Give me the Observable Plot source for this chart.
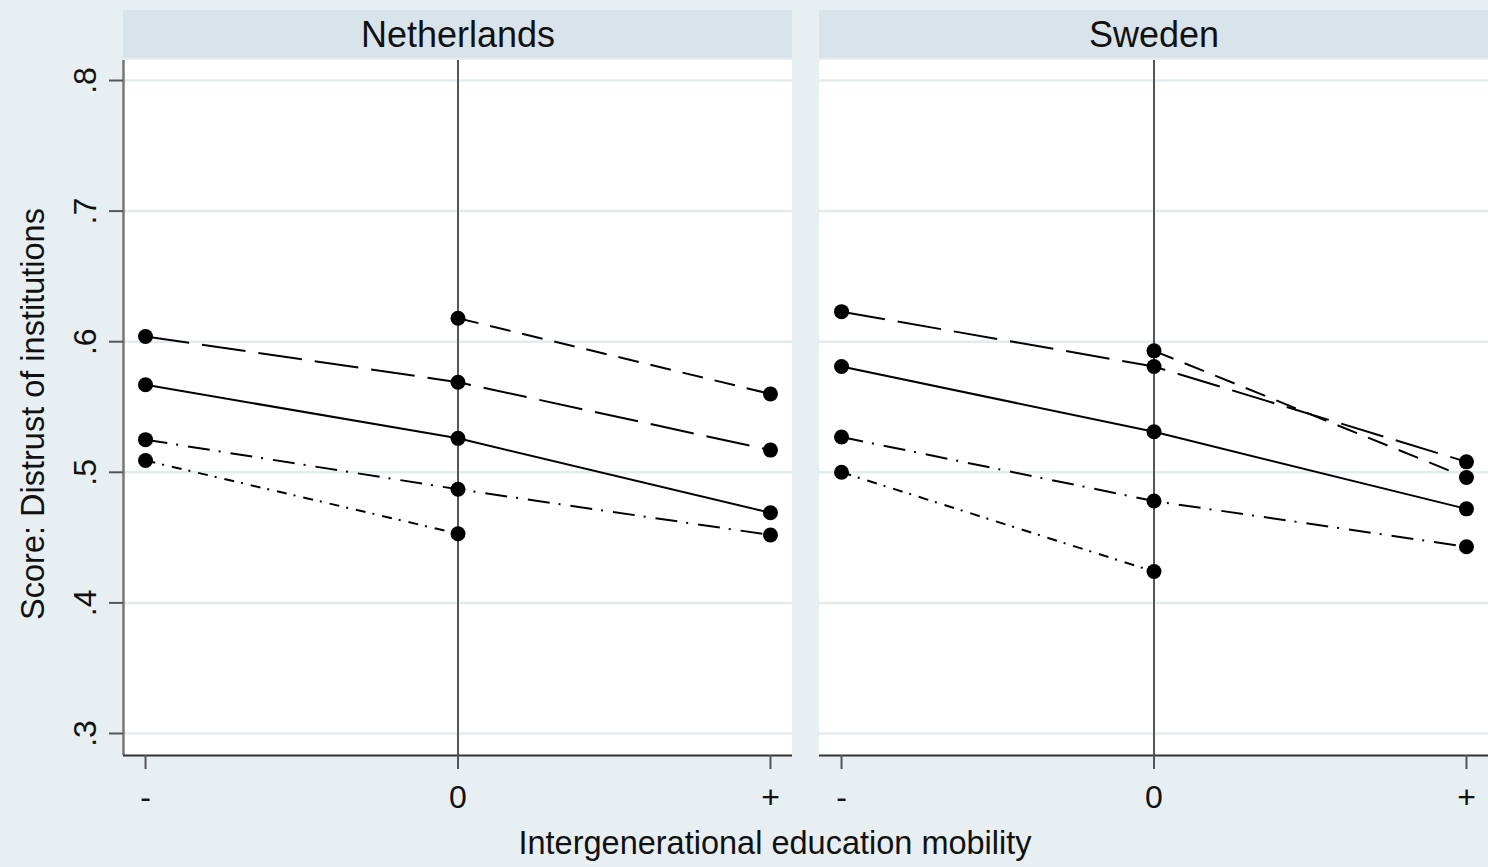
<!DOCTYPE html>
<html>
<head>
<meta charset="utf-8">
<script src="https://cdn.jsdelivr.net/npm/d3@7"></script>
<script src="https://cdn.jsdelivr.net/npm/@observablehq/plot@0.6"></script>
<style>
  html, body { margin: 0; padding: 0; background: #e8eff2; overflow: hidden; }
  #chart svg { display: block; }
</style>
</head>
<body>
<div id="chart"></div>
<script>
// ---- data ----
const countries = ["Netherlands", "Sweden"];
const mobility = [-1, 0, 1];
const mobilityLabels = ["-", "0", "+"];
const yTicks = [0.3, 0.4, 0.5, 0.6, 0.7, 0.8];
const seriesNames = ["longdash", "shortdash", "solid", "dashdot", "dashdotdot"];

// values at mobility -, 0, + (null = not shown)
const nlLongDash   = [0.604, 0.569, 0.517];
const nlShortDash  = [null, 0.618, 0.560];
const nlSolid      = [0.567, 0.526, 0.469];
const nlDashDot    = [0.525, 0.487, 0.452];
const nlDashDotDot = [0.509, 0.453, null];

const seLongDash   = [0.623, 0.581, 0.508];
const seShortDash  = [null, 0.593, 0.496];
const seSolid      = [0.581, 0.531, 0.472];
const seDashDot    = [0.527, 0.478, 0.443];
const seDashDotDot = [0.500, 0.424, null];

const xTitle = "Intergenerational education mobility";
const yTitle = "Score: Distrust of institutions";

// ---- build table ----
const valuesBy = {
  Netherlands: [nlLongDash, nlShortDash, nlSolid, nlDashDot, nlDashDotDot],
  Sweden: [seLongDash, seShortDash, seSolid, seDashDot, seDashDotDot]
};
const rows = [];
for (const c of countries) {
  valuesBy[c].forEach((vals, si) => {
    vals.forEach((v, i) => {
      if (v != null) rows.push({country: c, series: seriesNames[si], m: mobility[i], v});
    });
  });
}

// ---- styles ----
const dashes = {
  longdash: "44,13",
  shortdash: "21,12",
  solid: null,
  dashdot: "22,9,2,10",
  dashdotdot: "10,7,2,8"
};
const font = "'Liberation Sans', Arial, Helvetica, sans-serif";
const textColor = "#111";
const H = 867, marginTop = 10, marginBottom = 112;
// y scale: pixel 733 <-> 0.3, 0.1 per 130.6 px
const pxPerUnit = 1306;
const yAt = px => 0.3 + (733 - px) / pxPerUnit;
const yLo = yAt(H - marginBottom);   // bottom of plot region
const yHi = yAt(marginTop);          // top of header strip
const panelTop = yAt(60);
const headerBottom = yAt(58);
const xExt = 1.0705;

const lineMarks = seriesNames.map(s =>
  Plot.line(rows.filter(d => d.series === s), {
    fx: "country", x: "m", y: "v",
    stroke: "#000", strokeWidth: 2,
    strokeDasharray: dashes[s] || undefined,
    strokeLinecap: "butt"
  })
);

const chart = Plot.plot({
  width: 1488,
  height: H,
  marginLeft: 123,
  marginRight: 0,
  marginTop,
  marginBottom,
  style: {background: "#e8eff2", fontFamily: font, color: textColor, maxWidth: "none"},
  fx: {domain: countries, paddingInner: 27 / 696, paddingOuter: 0, axis: null, label: null},
  x: {domain: [-xExt, xExt]},
  y: {domain: [yLo, yHi]},
  marks: [
    // header strip
    Plot.rect(countries, {fx: d => d, x1: -xExt, x2: xExt, y1: headerBottom, y2: yHi, fill: "#d8e4ea"}),
    // white plot region
    Plot.rect(countries, {fx: d => d, x1: -xExt, x2: xExt, y1: yLo, y2: panelTop, fill: "#ffffff"}),
    Plot.text(countries, {fx: d => d, x: 0, frameAnchor: "top", dy: 24.5, text: d => d,
      fontSize: 36, fill: textColor, lineAnchor: "middle", textAnchor: "middle"}),
    Plot.gridY(yTicks, {stroke: "#e2ecef", strokeOpacity: 1, strokeWidth: 2.5, x1: -xExt, x2: xExt}),
    // reference line at 0
    Plot.ruleX([0], {y1: yLo, y2: panelTop, stroke: "#555", strokeWidth: 2}),
    // left axis line (first panel only)
    Plot.ruleX([countries[0]], {fx: d => d, x: -xExt, y1: yLo, y2: panelTop, stroke: "#777", strokeWidth: 2.5}),
    // bottom axis line
    Plot.ruleY([yLo], {x1: -xExt, x2: xExt, stroke: "#333", strokeWidth: 2}),
    ...lineMarks,
    Plot.dot(rows, {fx: "country", x: "m", y: "v", r: 7.5, fill: "#000", stroke: "none"}),
    Plot.axisX({ticks: mobility, tickFormat: d => mobilityLabels[mobility.indexOf(d)],
      tickSize: 14, tickPadding: 16, fontSize: 32, stroke: "#555", strokeWidth: 2, label: null,
      fill: textColor}),
    Plot.axisY({ticks: yTicks, tickFormat: d => d3.format(".1f")(d).replace(/^0/, ""),
      tickSize: 14, tickPadding: 14, tickRotate: -90, fontSize: 32, stroke: "#555", strokeWidth: 2,
      label: null, fill: textColor}),
    // axis titles
    Plot.text([countries[0]], {fx: d => d, frameAnchor: "left", dx: -90, dy: 31, rotate: -90,
      text: () => yTitle, fontSize: 32.5, fill: textColor, lineAnchor: "middle", textAnchor: "middle"}),
    Plot.text([countries[0]], {fx: d => d, frameAnchor: "bottom", dx: 317, dy: 88,
      text: () => xTitle, fontSize: 32.5, fill: textColor, lineAnchor: "middle", textAnchor: "middle"})
  ]
});
document.getElementById("chart").appendChild(chart);
</script>
</body>
</html>
